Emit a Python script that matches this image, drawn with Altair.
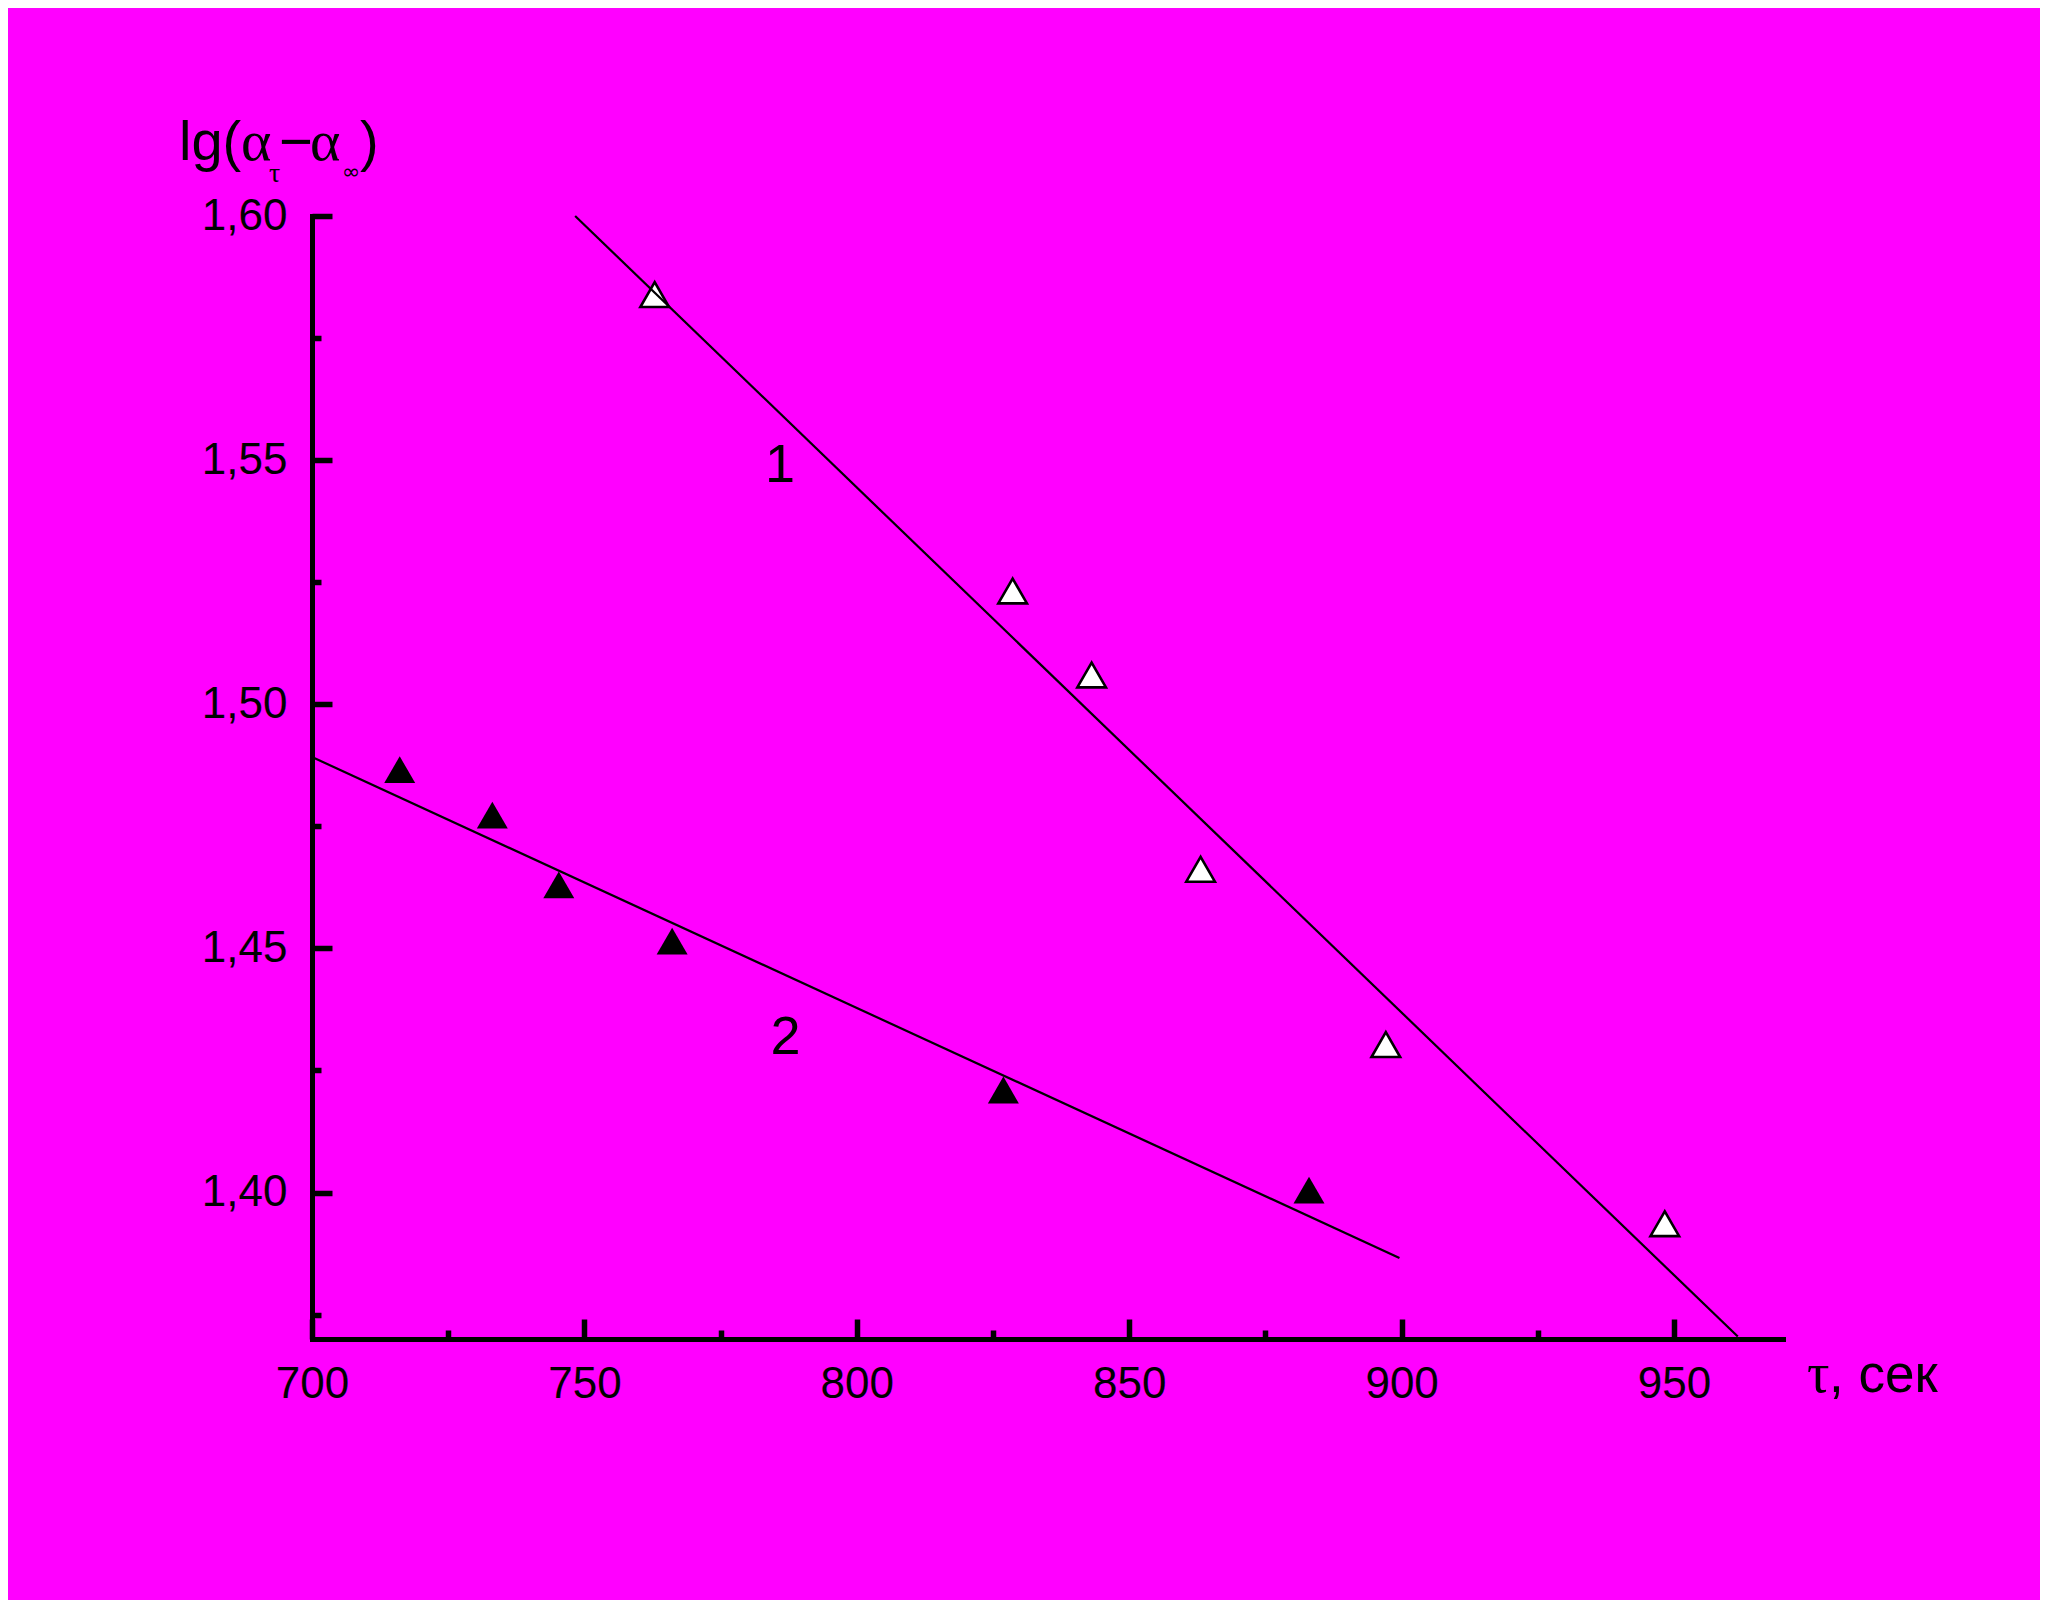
import altair as alt
import pandas as pd

# ---- data ----
tau_1 = [762.9, 828.6, 843.1, 863.1, 897.1, 948.3]
lg_1 = [1.5839, 1.5232, 1.5060, 1.4662, 1.4303, 1.3936]
tau_2 = [716.1, 733.1, 745.3, 766.1, 826.9, 883.0]
lg_2 = [1.4866, 1.4773, 1.4630, 1.4515, 1.4210, 1.4005]
fit_1_tau = [748.3, 961.7]
fit_1_lg = [1.6000, 1.3705]
fit_2_tau = [700.0, 899.6]
fit_2_lg = [1.4892, 1.3866]
x_major = [700, 750, 800, 850, 900, 950]
x_minor = [725, 775, 825, 875, 925]
y_major = [1.40, 1.45, 1.50, 1.55, 1.60]
y_minor = [1.375, 1.425, 1.475, 1.525, 1.575]
curve_labels = ["1", "2"]
curve_label_tau = [785.9, 786.9]
curve_label_lg = [1.5455, 1.4284]
y_title_parts = ["lg(", "α", "τ", "−", "α", "∞", ")"]
x_title_parts = ["τ", ", сек"]

SANS = "Liberation Sans"
SERIF = "Liberation Serif"
BG = "#ff00ff"

xs = alt.Scale(domain=[700, 970], nice=False, zero=False)
ys = alt.Scale(domain=[1.37, 1.60], nice=False, zero=False)

df1 = pd.DataFrame({"tau": tau_1, "lg": lg_1})
df2 = pd.DataFrame({"tau": tau_2, "lg": lg_2})
fit1 = pd.DataFrame({"tau": fit_1_tau, "lg": fit_1_lg})
fit2 = pd.DataFrame({"tau": fit_2_tau, "lg": fit_2_lg})
lab = pd.DataFrame({"t": curve_labels, "tau": curve_label_tau, "lg": curve_label_lg})

comma_expr = "replace(format(datum.value, '.2f'), '.', ',')"

x_major_axis = alt.Axis(orient="bottom", values=x_major, tickSize=20, tickWidth=5.5,
                        tickColor="black", offset=-20, domain=False, grid=False,
                        labelFont=SANS, labelFontSize=44, labelColor="black",
                        labelPadding=23, labelFlush=False, labelOverlap=False,
                        format="d", title=None)
y_major_axis = alt.Axis(orient="left", values=y_major, tickSize=20, tickWidth=5.5,
                        tickColor="black", offset=-20, domain=False, grid=False,
                        labelFont=SANS, labelFontSize=44, labelColor="black",
                        labelPadding=25, labelFlush=False, labelOverlap=False,
                        labelExpr=comma_expr, title=None)
x_minor_axis = alt.Axis(orient="bottom", values=x_minor, tickSize=9, tickWidth=5.5,
                        tickColor="black", offset=-9, domain=False, grid=False,
                        labels=False, title=None)
y_minor_axis = alt.Axis(orient="left", values=y_minor, tickSize=9, tickWidth=5.5,
                        tickColor="black", offset=-9, domain=False, grid=False,
                        labels=False, title=None)
x_dom_axis = alt.Axis(orient="bottom", domain=True, domainWidth=5, domainColor="black",
                      domainCap="square", ticks=False, labels=False, grid=False, title=None)
y_dom_axis = alt.Axis(orient="left", domain=True, domainWidth=5, domainColor="black",
                      domainCap="square", ticks=False, labels=False, grid=False, title=None)

filled = alt.Chart(df2).mark_point(shape="triangle-up", filled=True, color="black",
                                   size=960, opacity=1, strokeWidth=0).encode(
    x=alt.X("tau:Q", scale=xs, axis=x_major_axis),
    y=alt.Y("lg:Q", scale=ys, axis=y_major_axis),
)
hollow = alt.Chart(df1).mark_point(shape="triangle-up", filled=True, fill="white",
                                   stroke="black", strokeWidth=2.6, size=820,
                                   opacity=1, fillOpacity=1, strokeOpacity=1).encode(
    x=alt.X("tau:Q", scale=xs, axis=x_minor_axis),
    y=alt.Y("lg:Q", scale=ys, axis=y_minor_axis),
)
line1 = alt.Chart(fit1).mark_line(color="black", strokeWidth=2.2).encode(
    x=alt.X("tau:Q", scale=xs, axis=x_dom_axis),
    y=alt.Y("lg:Q", scale=ys, axis=y_dom_axis),
)
line2 = alt.Chart(fit2).mark_line(color="black", strokeWidth=2.2).encode(
    x=alt.X("tau:Q", scale=xs, axis=None),
    y=alt.Y("lg:Q", scale=ys, axis=None),
)
labels = alt.Chart(lab).mark_text(font=SANS, fontSize=54, color="black",
                                  align="center", baseline="alphabetic").encode(
    x=alt.X("tau:Q", scale=xs, axis=None),
    y=alt.Y("lg:Q", scale=ys, axis=None),
    text="t:N",
)


def piece(txt, font, size, px, py):
    return alt.Chart(pd.DataFrame({"t": [txt]})).mark_text(
        font=font, fontSize=size, color="black", align="left", baseline="alphabetic"
    ).encode(text="t:N", x=alt.value(px), y=alt.value(py))


ytitle = [
    piece(y_title_parts[0], SANS, 56, -133, -56),
    piece(y_title_parts[1], SERIF, 58, -71, -56),
    piece(y_title_parts[2], SERIF, 28, -43, -34),
    piece(y_title_parts[3], SANS, 58, -33, -55),
    piece(y_title_parts[4], SERIF, 58, -2, -56),
    piece(y_title_parts[5], "DejaVu Sans", 22, 30, -37),
    piece(y_title_parts[6], SANS, 56, 48, -56),
]
xtitle = [
    piece(x_title_parts[0], SERIF, 56, 1495, 1176),
    piece(x_title_parts[1], SANS, 53, 1517, 1176),
]

chart = alt.layer(filled, hollow, line1, line2, labels, *ytitle, *xtitle).resolve_axis(
    x="independent", y="independent"
).properties(
    width=1471, height=1123,
    autosize=alt.AutoSizeParams(type="none"),
    padding={"left": 304, "top": 208, "right": 257, "bottom": 261},
).configure(background=BG).configure_view(stroke="transparent")

chart.save("out.html", embed_options={"renderer": "svg", "actions": False})
